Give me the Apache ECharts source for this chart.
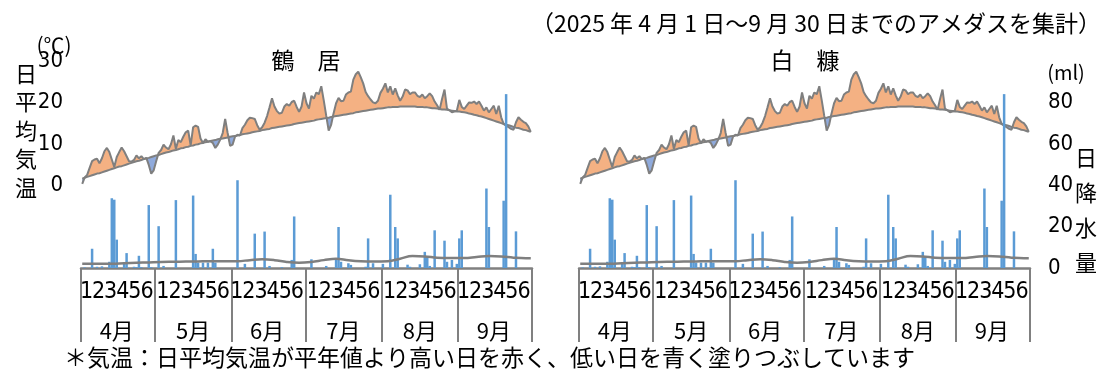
<!DOCTYPE html>
<html><head><meta charset="utf-8">
<script src="https://cdn.jsdelivr.net/npm/echarts@6/dist/echarts.min.js"></script>
<style>html,body{margin:0;padding:0;background:#fff;}#c{width:1120px;height:372px;}</style>
</head><body><div id="c"></div>
<script>
// ---- categories / labels ----
const months = ['4月','5月','6月','7月','8月','9月'];
const monthDays = [30,31,30,31,31,30];
const pentadLabels = ['1','2','3','4','5','6'];
const stationNames = ['鶴　居','白　糠'];

// ---- daily mean temperature (°C), Apr 1 - Sep 30 ----
const tempDaily = [
 0.3,1.9,2.5,4.2,5.8,6.2,6.4,5.3,6.5,8.2,9.0,8.0,6.2,4.4,6.8,8.0,9.1,8.2,7.0,5.8,5.7,6.1,7.2,6.5,7.0,6.3,6.6,4.9,2.8,3.6,
 5.8,7.8,8.5,9.8,9.1,8.7,9.9,12.0,8.8,10.9,10.4,11.7,12.8,13.2,9.6,14.0,14.4,14.1,11.3,10.2,11.1,10.5,10.6,10.2,9.0,9.8,11.0,12.6,16.0,12.6,9.5,
 9.8,11.7,12.2,12.0,13.8,14.6,15.7,16.3,16.2,16.0,14.5,13.4,14.0,15.1,16.7,18.8,21.0,19.0,17.9,17.3,17.5,19.0,19.6,19.2,20.1,20.4,18.9,17.7,19.0,22.4,
 19.8,18.5,21.6,20.9,22.4,22.0,23.9,20.5,16.8,13.2,14.6,17.4,19.8,21.1,20.3,20.4,21.9,22.4,22.6,25.5,26.8,27.4,26.1,24.6,22.5,21.5,20.7,20.0,19.8,20.4,22.3,
 23.3,24.6,22.4,23.9,21.9,23.4,21.7,20.4,21.4,23.1,22.9,22.0,22.4,22.4,21.6,21.3,21.9,21.0,21.5,22.2,21.5,20.2,19.3,18.2,20.8,23.1,18.5,18.1,17.6,17.8,18.0,
 20.6,18.9,18.4,19.2,20.0,19.9,20.2,19.6,20.2,19.2,18.0,18.8,17.6,18.4,19.2,17.2,19.2,16.4,14.8,14.4,14.0,13.6,13.4,15.2,16.4,15.8,15.3,15.0,14.2,12.9
];
// ---- normal daily mean temperature (°C) ----
const tempNormal = [
 1.6,1.8,2.0,2.2,2.4,2.6,2.8,2.9,3.1,3.3,3.5,3.7,3.9,4.1,4.3,4.5,4.6,4.8,5.0,5.2,5.4,5.6,5.8,5.9,6.1,6.3,6.5,6.6,6.8,7.0,
 7.2,7.3,7.5,7.7,7.9,8.0,8.2,8.4,8.5,8.7,8.9,9.0,9.2,9.3,9.5,9.6,9.8,9.9,10.1,10.2,10.4,10.5,10.7,10.8,10.9,11.1,11.2,11.3,11.4,11.5,11.7,
 11.8,11.9,12.0,12.1,12.3,12.4,12.5,12.6,12.8,12.9,13.0,13.1,13.3,13.4,13.5,13.6,13.8,13.9,14.0,14.1,14.2,14.3,14.4,14.5,14.6,14.8,14.9,15.0,15.1,15.2,
 15.3,15.4,15.5,15.6,15.8,15.9,16.0,16.1,16.2,16.3,16.5,16.6,16.7,16.8,16.9,17.0,17.1,17.2,17.3,17.4,17.6,17.7,17.8,17.9,18.0,18.1,18.2,18.3,18.4,18.5,18.5,
 18.6,18.7,18.8,18.8,18.9,18.9,18.9,19.0,19.0,19.0,19.0,19.0,19.0,19.0,18.9,18.9,18.9,18.8,18.8,18.7,18.6,18.6,18.5,18.4,18.3,18.3,18.2,18.1,18.0,17.9,17.8,
 17.8,17.7,17.6,17.5,17.3,17.2,17.0,16.9,16.7,16.6,16.4,16.2,16.0,15.8,15.6,15.4,15.2,15.0,14.8,14.6,14.5,14.3,14.1,13.9,13.8,13.6,13.4,13.3,13.1,12.9
];
// ---- daily precipitation (mm) ----
const precipDaily = [
 0,0.3,0,0,9.3,0,0.6,0,0.8,0,0,3,33.7,33,13.7,0,0,2.5,7.2,0,0,0.6,0.4,5.9,0.4,0,0,30.4,0.4,0,
 0,20.2,0,1,0,0,0,0,32.8,0,0,0,0,0,0,35,6.8,2.6,0,2.6,0,2.6,0,9.3,2.6,0,0,0,0,0,0,
 0,0,42.4,0,0,2,0,0,0,16.6,0,0,0,17.6,0,1,0,0,0,0,0.4,0,0,0,3.9,24.9,0,0,0,0,
 0,0,4.2,0,0,0,0,0,1,0,0,0,3.9,19.8,3,0,0,2.3,1.5,0,0,0,0,0,0.6,14.3,0,2.3,0,0,0,
 2,0,0,35.4,0,19.8,14.3,0,0,0,1.6,0.6,0,0,0,1.8,0,7.8,5.5,1,0,18.2,0,0,0,13.2,3,0,3.9,0,2,
 14.3,18.2,0,0,0,0,0,0,0,0,0,38.4,19.8,0,0,0,0,0,32.5,84,0,0,0,17.7,0,0,0,0,0,0
];
// ---- normal precipitation (mm), read at pentad centres ----
const precipNormalDay = [0,2,7,12,17,22,27,32,37,42,47,52,57,63,68,73,78,83,88,93,98,103,108,113,118,124,129,134,139,144,149,155,160,165,170,175,180,182];
const precipNormal = [2.0,2.0,2.0,2.1,2.3,2.5,2.7,2.9,3.0,3.1,3.2,3.3,3.3,3.3,3.8,4.2,3.8,2.9,2.5,2.9,3.8,4.5,3.8,3.3,3.1,3.3,4.5,5.8,5.6,5.0,4.8,4.8,5.3,5.8,5.6,5.0,4.7,4.7];

// ---- build category axis info ----
const dayCats = [];
const monthStart = new Set(), monthMid = {};
let idx = 0;
monthDays.forEach((n, m) => {
  monthStart.add(idx);
  monthMid[idx + Math.floor((n - 1) / 2)] = m;
  for (let d = 1; d <= n; d++) dayCats.push((m + 4) + '/' + d);
  idx += n;
});

const C = {
  orange: '#F4B183', blue: '#8FAADC', line: '#7F7F7F', bar: '#5B9BD5', axis: '#808080'
};
const CJK = '"Noto Sans CJK JP", "Noto Sans", sans-serif';
const NARROW = '"Liberation Sans Narrow", "DejaVu Sans Condensed", "Roboto", "Noto Sans CJK JP", sans-serif';

const grids = [
  {left: 81, top: 61, width: 451, height: 207},
  {left: 579, top: 61, width: 451, height: 207}
];

const pentadRich = {p: {width: 12.1, align: 'center', fontSize: 23, fontFamily: NARROW, color: '#000'}};

const xAxis = [], yAxis = [], series = [];
grids.forEach((g, gi) => {
  const xBase = xAxis.length;
  xAxis.push({ type: 'category', gridIndex: gi, data: dayCats, position: 'bottom',
    axisLine: {show: true, onZero: false, lineStyle: {color: C.axis, width: 2.5}},
    axisTick: {show: false},
    axisLabel: {show: true, interval: (i) => monthMid[i] !== undefined, hideOverlap: false,
      formatter: (v, i) => monthMid[i] === undefined ? '' : pentadLabels.map(p => '{p|' + p + '}').join(''),
      rich: pentadRich, margin: 13, fontSize: 23, fontFamily: NARROW, color: '#000'} });
  xAxis.push({ type: 'category', gridIndex: gi, data: dayCats, position: 'bottom',
    axisLine: {show: false, onZero: false},
    axisTick: {show: true, interval: (i) => monthStart.has(i), length: 74, inside: false,
      lineStyle: {color: C.axis, width: 2}},
    axisLabel: {show: true, interval: (i) => monthMid[i] !== undefined, hideOverlap: false,
      formatter: (v, i) => monthMid[i] === undefined ? '' : months[monthMid[i]], margin: 52,
      fontSize: 22, fontFamily: CJK, color: '#000'} });
  const yT = yAxis.length;
  yAxis.push({ type: 'value', gridIndex: gi, min: -20, max: 30, interval: 10, position: 'left',
    show: gi === 0, axisLine: {show: false}, axisTick: {show: false}, splitLine: {show: false},
    axisLabel: {margin: 18, fontSize: 22, fontFamily: NARROW, color: '#000',
      formatter: (v) => v >= 0 ? String(v) : ''} });
  const yP = yAxis.length;
  yAxis.push({ type: 'value', gridIndex: gi, min: 0, max: 100, interval: 20, position: 'right',
    show: gi === 1, axisLine: {show: false}, axisTick: {show: false}, splitLine: {show: false},
    axisLabel: {margin: 18, fontSize: 22, fontFamily: NARROW, color: '#000',
      formatter: (v) => v <= 80 ? String(v) : ''} });

  const lo = tempDaily.map((a, i) => Math.min(a, tempNormal[i]));
  const below = tempDaily.map((a, i) => +(tempNormal[i] - lo[i]).toFixed(2));
  const above = tempDaily.map((a, i) => +(Math.max(a, tempNormal[i]) - tempNormal[i]).toFixed(2));
  const stackName = 'T' + gi;
  const common = {type: 'line', xAxisIndex: xBase, yAxisIndex: yT, symbol: 'none', silent: true,
    stack: stackName, stackStrategy: 'all', lineStyle: {width: 0, opacity: 0}, z: 1};
  series.push(Object.assign({}, common, {name: 'base' + gi, data: lo}));
  series.push(Object.assign({}, common, {name: 'below' + gi, data: below, areaStyle: {color: C.blue, opacity: 1}}));
  series.push(Object.assign({}, common, {name: 'above' + gi, data: above, areaStyle: {color: C.orange, opacity: 1}}));
  series.push({type: 'line', xAxisIndex: xBase, yAxisIndex: yT, data: tempNormal, symbol: 'none', silent: true,
    lineStyle: {color: C.line, width: 2}, z: 2});
  series.push({type: 'line', xAxisIndex: xBase, yAxisIndex: yT, data: tempDaily, symbol: 'none', silent: true,
    lineStyle: {color: C.line, width: 2}, z: 3});
  series.push({type: 'bar', xAxisIndex: xBase, yAxisIndex: yP, data: precipDaily, barWidth: 2.5,
    itemStyle: {color: C.bar}, silent: true, z: 4});
  series.push({type: 'line', xAxisIndex: xBase, yAxisIndex: yP, smooth: 0.4, symbol: 'none', silent: true,
    data: precipNormalDay.map((d, i) => [d, precipNormal[i]]),
    lineStyle: {color: C.line, width: 2.5}, z: 5});
});

const txt = (x, y, text, size, align, va, extra) => ({type: 'text', x: x, y: y, silent: true,
  style: Object.assign({text: text, font: size + 'px ' + CJK, fill: '#000', align: align, verticalAlign: va}, extra || {})});

const option = {
  animation: false,
  backgroundColor: '#fff',
  grid: grids.map(g => Object.assign({containLabel: false, outerBoundsMode: 'none'}, g)),
  xAxis: xAxis, yAxis: yAxis, series: series,
  graphic: [
    txt(1101, 23, '（2025 年 4 月 1 日～9 月 30 日までのアメダスを集計）', 23, 'right', 'middle'),
    txt(54, 45, '(℃)', 21, 'center', 'middle'),
    txt(26, 59, '日\n平\n均\n気\n温', 22, 'center', 'top', {lineHeight: 28.5}),
    txt(306, 60, stationNames[0], 23, 'center', 'middle'),
    txt(805, 60, stationNames[1], 23, 'center', 'middle'),
    txt(1066, 72, '(ml)', 20, 'center', 'middle'),
    txt(1086, 140, '日\n降\n水\n量', 22, 'center', 'top', {lineHeight: 35}),
    txt(64, 357, '＊気温：日平均気温が平年値より高い日を赤く、低い日を青く塗りつぶしています', 23, 'left', 'middle')
  ]
};
const chart = echarts.init(document.getElementById('c'), null, {renderer: 'canvas'});
chart.setOption(option);
</script></body></html>
